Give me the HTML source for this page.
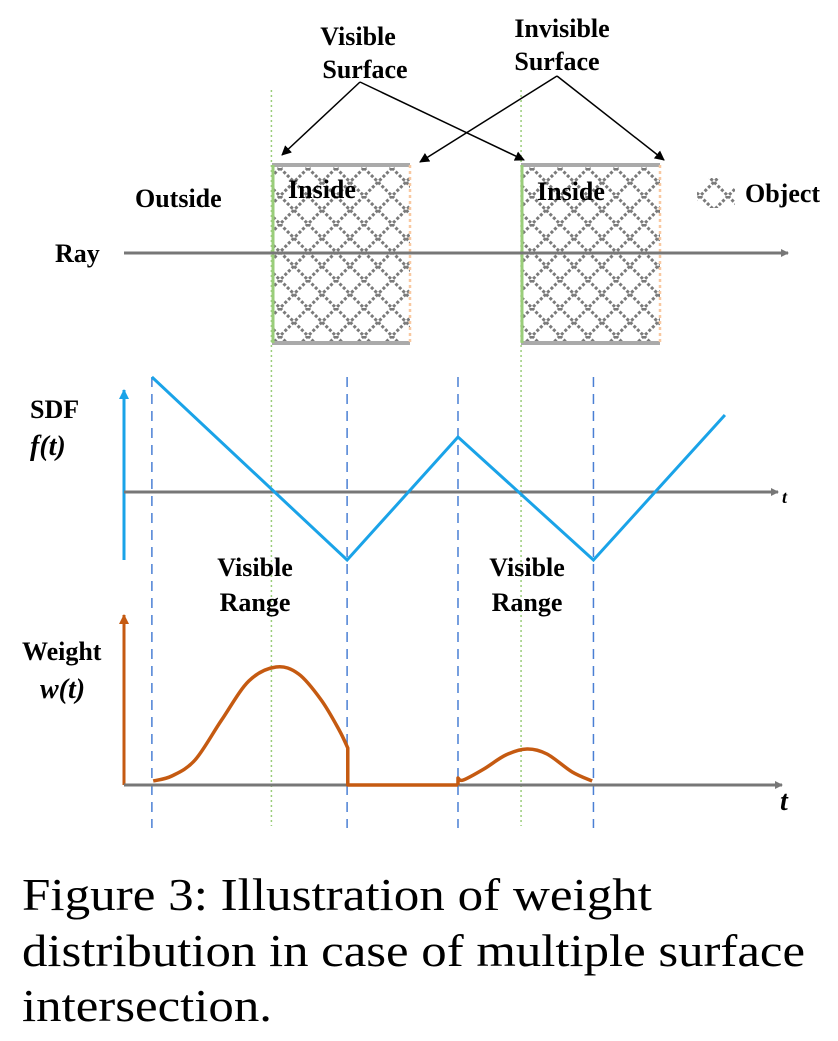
<!DOCTYPE html>
<html><head><meta charset="utf-8"><style>
body{margin:0;background:#fff}
svg text{font-family:"Liberation Serif",serif;font-weight:bold}
</style></head><body>
<svg width="838" height="1036" viewBox="0 0 838 1036">
<defs>
<pattern id="hatch" width="28" height="28" patternUnits="userSpaceOnUse">
<path d="M0,0L28,28M28,0L0,28" stroke="#7a7a7a" stroke-width="3" stroke-dasharray="3,2"/>
</pattern>
<marker id="ag" markerWidth="8" markerHeight="8" refX="7" refY="4" orient="auto" markerUnits="userSpaceOnUse"><path d="M0,0L8,4L0,8z" fill="#777"/></marker>
<marker id="ab" markerWidth="10" markerHeight="10" refX="9" refY="5" orient="auto" markerUnits="userSpaceOnUse"><path d="M0,0L10,5L0,10z" fill="#000"/></marker>
<marker id="ac" markerWidth="10" markerHeight="10" refX="9" refY="5" orient="auto" markerUnits="userSpaceOnUse"><path d="M0,0L10,5L0,10z" fill="#1aa3e8"/></marker>
<marker id="ao" markerWidth="10" markerHeight="10" refX="9" refY="5" orient="auto" markerUnits="userSpaceOnUse"><path d="M0,0L10,5L0,10z" fill="#c55a11"/></marker>
</defs>
<g id="guides"></g>
<g>
<rect x="272" y="165" width="138" height="178" fill="url(#hatch)"/>
<path d="M272,165H410M272,343H410" stroke="#aaa" stroke-width="4"/>
<line x1="273" y1="165" x2="273" y2="343" stroke="#9acd7a" stroke-width="3"/>
<line x1="410" y1="165" x2="410" y2="343" stroke="#f8c8a0" stroke-width="2.5" stroke-dasharray="3,3"/>
</g>
<g>
<rect x="521" y="165" width="139" height="178" fill="url(#hatch)"/>
<path d="M521,165H660M521,343H660" stroke="#aaa" stroke-width="4"/>
<line x1="522" y1="165" x2="522" y2="343" stroke="#9acd7a" stroke-width="3"/>
<line x1="660" y1="165" x2="660" y2="343" stroke="#f8c8a0" stroke-width="2.5" stroke-dasharray="3,3"/>
</g>
<rect x="697" y="178" width="38" height="30" fill="url(#hatch)"/>
<text x="745" y="202" font-size="26">Object</text>
<line x1="124" y1="253" x2="788" y2="253" stroke="#777" stroke-width="3" marker-end="url(#ag)"/>
<text x="55" y="262" font-size="26">Ray</text>
<text x="135" y="207" font-size="26">Outside</text>
<text x="288" y="198" font-size="26">Inside</text>
<text x="537" y="200" font-size="26">Inside</text>
<text x="365" y="45" font-size="26" text-anchor="middle"><tspan x="358">Visible</tspan><tspan x="365" dy="33">Surface</tspan></text>
<text x="562" y="37" font-size="26" text-anchor="middle"><tspan x="562">Invisible</tspan><tspan x="557" dy="33">Surface</tspan></text>
<g stroke="#000" stroke-width="1.5" fill="none">
<line x1="360" y1="82" x2="282" y2="155" marker-end="url(#ab)"/>
<line x1="360" y1="82" x2="524" y2="160" marker-end="url(#ab)"/>
<line x1="557" y1="76" x2="420" y2="162" marker-end="url(#ab)"/>
<line x1="557" y1="76" x2="664" y2="160" marker-end="url(#ab)"/>
</g>
<line x1="124" y1="560" x2="124" y2="390" stroke="#1aa3e8" stroke-width="3" marker-end="url(#ac)"/>
<line x1="124" y1="492" x2="778" y2="492" stroke="#777" stroke-width="3" marker-end="url(#ag)"/>
<text x="30" y="418" font-size="26">SDF</text>
<text x="30" y="455" font-size="28" font-style="italic">f(t)</text>
<text x="782" y="503" font-size="18" font-style="italic">t</text>
<polyline id="sdfline" fill="none" stroke="#1aa3e8" stroke-width="3"/>
<text x="255" y="576" font-size="26" text-anchor="middle"><tspan x="255">Visible</tspan><tspan x="255" dy="35">Range</tspan></text>
<text x="527" y="576" font-size="26" text-anchor="middle"><tspan x="527">Visible</tspan><tspan x="527" dy="35">Range</tspan></text>
<line x1="124" y1="785" x2="124" y2="615" stroke="#c55a11" stroke-width="3" marker-end="url(#ao)"/>
<line x1="124" y1="785" x2="782" y2="785" stroke="#777" stroke-width="3" marker-end="url(#ag)"/>
<text x="22" y="660" font-size="26">Weight</text>
<text x="40" y="698" font-size="28" font-style="italic">w(t)</text>
<text x="780" y="810" font-size="28" font-style="italic">t</text>
<path id="wline1" fill="none" stroke="#c55a11" stroke-width="3.5" stroke-linejoin="round"/>
<path id="wline2" fill="none" stroke="#c55a11" stroke-width="3.5" stroke-linejoin="round"/>
<text font-size="46" style="font-weight:normal"><tspan x="22" y="910" textLength="630" lengthAdjust="spacingAndGlyphs">Figure 3: Illustration of weight</tspan><tspan x="22" y="966" textLength="783" lengthAdjust="spacingAndGlyphs">distribution in case of multiple surface</tspan><tspan x="22" y="1021" textLength="250" lengthAdjust="spacingAndGlyphs">intersection.</tspan></text>
</svg>
<script>
const surfaceT=[2.22,5.98];
const boundaryT=[0.42,3.36,5.03,7.07];
const sdfT=[0.42,3.36,5.03,7.07,9.05];
const sdfF=[2.3,-1.36,1.1,-1.36,1.54];
const w1T=[0.44,0.72,1.07,1.47,1.88,2.29,2.63,2.97,3.24,3.37];
const w1V=[0.04,0.09,0.25,0.65,1.04,1.18,1.11,0.85,0.55,0.37];
const w2T=[5.03,5.11,5.42,5.75,6.07,6.37,6.75,7.05];
const w2V=[0.07,0.05,0.16,0.30,0.36,0.31,0.13,0.04];
const gapT=[3.37,5.03];
const X=t=>124+t*66.4;
const Ysdf=f=>492-f*50;
const Yw=w=>785-w*100;
const NS='http://www.w3.org/2000/svg';
const g=document.getElementById('guides');
surfaceT.forEach((t,i)=>{const l=document.createElementNS(NS,'line');
l.setAttribute('x1',X(t));l.setAttribute('x2',X(t));l.setAttribute('y1',90);l.setAttribute('y2',826);
l.setAttribute('stroke','#9acd7a');l.setAttribute('stroke-width','1.5');l.setAttribute('stroke-dasharray','2,3');


g.appendChild(l);});
boundaryT.forEach((t,i)=>{const l=document.createElementNS(NS,'line');
l.setAttribute('x1',X(t));l.setAttribute('x2',X(t));l.setAttribute('y1',377);l.setAttribute('y2',828);
l.setAttribute('stroke','#4a7fd4');l.setAttribute('stroke-width','1.5');l.setAttribute('stroke-dasharray','10,7');


g.appendChild(l);});
document.getElementById('sdfline').setAttribute('points',sdfT.map((t,i)=>X(t)+','+Ysdf(sdfF[i])).join(' '));
function smooth(ts,vs){const p=ts.map((t,i)=>[X(t),Yw(vs[i])]);let d='M'+p[0];
for(let i=0;i<p.length-1;i++){const a=p[Math.max(0,i-1)],b=p[i],c=p[i+1],e=p[Math.min(p.length-1,i+2)];
const c1=[b[0]+(c[0]-a[0])/6,b[1]+(c[1]-a[1])/6],c2=[c[0]-(e[0]-b[0])/6,c[1]-(e[1]-b[1])/6];
d+='C'+c1+' '+c2+' '+c;}return d;}
document.getElementById('wline1').setAttribute('d',smooth(w1T,w1V)+'L'+X(gapT[0])+','+Yw(0)+'L'+X(gapT[1])+','+Yw(0));
document.getElementById('wline2').setAttribute('d','M'+X(gapT[1])+','+Yw(0)+'L'+smooth(w2T,w2V).slice(1));
</script>
</body></html>
